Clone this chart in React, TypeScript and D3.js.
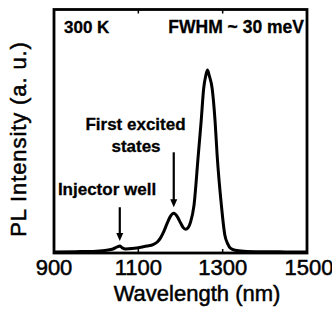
import React, { useEffect, useRef } from 'react';
import * as d3 from 'd3';

// PL spectrum (wavelength in nm, intensity in a.u.)
const wavelength = [900, 950, 1000, 1025, 1040, 1050, 1056, 1062, 1070, 1085, 1100, 1120, 1135, 1145, 1152, 1160, 1168, 1176, 1184, 1192, 1200, 1206, 1212, 1218, 1224, 1232, 1242, 1249, 1255, 1260, 1264, 1268, 1275, 1282, 1287, 1297, 1305, 1312, 1319, 1330, 1350, 1400, 1450, 1500];
const intensity = [0.5, 0.7, 1.0, 1.5, 2.2, 3.3, 3.8, 2.8, 2.2, 2.4, 2.9, 3.8, 4.6, 6, 8, 11.5, 16, 20, 21.7, 20, 16.5, 14, 13, 13.8, 17, 26, 53, 72, 90, 97, 100, 97, 90, 72, 53, 26, 10, 5, 2.5, 1.5, 1.0, 0.7, 0.6, 0.5];

const xTicks = [900, 1100, 1300, 1500];

// annotation arrows: x position (nm), from / to intensity
const arrowLabels = ['First excited states', 'Injector well'];
const arrowX = [1184, 1056];
const arrowFrom = [55, 25];
const arrowTo = [25, 6.6];

export default function App() {
  const svgRef = useRef<SVGSVGElement>(null);

  useEffect(() => {
    if (!svgRef.current) return;
    const svg = d3.select(svgRef.current);
    svg.selectAll('*').remove();

    const left = 54, right = 307, top = 9.5, bottom = 253;

    const x = d3.scaleLinear().domain([900, 1500]).range([left, right]);
    const y = d3.scaleLinear().domain([0, 133]).range([bottom, top]);

    const data = wavelength.map((w, i) => ({ w, v: intensity[i] }));

    // spectrum
    const line = d3.line<{ w: number; v: number }>()
      .x(d => x(d.w))
      .y(d => y(d.v))
      .curve(d3.curveMonotoneX);

    svg.append('path')
      .datum(data)
      .attr('d', line)
      .attr('fill', 'none')
      .attr('stroke', '#000')
      .attr('stroke-width', 3)
      .attr('stroke-linejoin', 'round');

    // frame
    svg.append('rect')
      .attr('x', left).attr('y', top)
      .attr('width', right - left).attr('height', bottom - top)
      .attr('fill', 'none')
      .attr('stroke', '#000')
      .attr('stroke-width', 2.8);

    // inward ticks
    const inner = xTicks.filter(t => t > 900 && t < 1500);
    svg.selectAll('.tt').data(inner).enter().append('line')
      .attr('x1', d => x(d)).attr('x2', d => x(d))
      .attr('y1', top).attr('y2', top + 4)
      .attr('stroke', '#000').attr('stroke-width', 1.5);
    svg.selectAll('.bt').data(inner).enter().append('line')
      .attr('x1', d => x(d)).attr('x2', d => x(d))
      .attr('y1', bottom).attr('y2', bottom - 4)
      .attr('stroke', '#000').attr('stroke-width', 1.5);

    const font = 'Liberation Sans, Arial, sans-serif';

    // tick labels
    svg.selectAll('.tl').data(xTicks).enter().append('text')
      .attr('x', d => x(d) + (d === 1500 ? 2 : 0))
      .attr('y', 275)
      .attr('text-anchor', 'middle')
      .attr('font-family', font)
      .attr('font-size', 22)
      .attr('stroke', '#000').attr('stroke-width', 0.5)
      .text(d => d);

    svg.append('text')
      .attr('x', 197).attr('y', 301)
      .attr('text-anchor', 'middle')
      .attr('font-family', font)
      .attr('font-size', 22)
      .attr('stroke', '#000').attr('stroke-width', 0.5)
      .text('Wavelength (nm)');

    svg.append('text')
      .attr('transform', `translate(26,${139}) rotate(-90)`)
      .attr('text-anchor', 'middle')
      .attr('font-family', font)
      .attr('font-size', 22)
      .attr('letter-spacing', 0.9)
      .attr('stroke', '#000').attr('stroke-width', 0.5)
      .text('PL Intensity (a. u.)');

    // corner labels
    svg.append('text')
      .attr('x', 64).attr('y', 33)
      .attr('font-family', font).attr('font-weight', 'bold').attr('font-size', 17)
      .attr('stroke', '#000').attr('stroke-width', 0.3)
      .text('300 K');
    svg.append('text')
      .attr('x', 304).attr('y', 33)
      .attr('text-anchor', 'end')
      .attr('font-family', font).attr('font-weight', 'bold').attr('font-size', 17.5)
      .attr('stroke', '#000').attr('stroke-width', 0.3)
      .text('FWHM ~ 30 meV');

    // arrows
    arrowX.forEach((w, i) => {
      const ax = x(w);
      const y0 = y(arrowFrom[i]);
      const y1 = y(arrowTo[i]);
      svg.append('line')
        .attr('x1', ax).attr('x2', ax)
        .attr('y1', y0).attr('y2', y1 - 6)
        .attr('stroke', '#000').attr('stroke-width', 2.2);
      svg.append('path')
        .attr('d', `M${ax - 3.5},${y1 - 8} L${ax + 3.5},${y1 - 8} L${ax},${y1} Z`)
        .attr('fill', '#000');
    });

    // arrow labels
    const t1 = svg.append('text')
      .attr('font-family', font).attr('font-weight', 'bold').attr('font-size', 17)
      .attr('stroke', '#000').attr('stroke-width', 0.3)
      .attr('text-anchor', 'middle');
    t1.append('tspan').attr('x', 135.5).attr('y', 130).text('First excited');
    t1.append('tspan').attr('x', 136).attr('y', 152).text('states');

    svg.append('text')
      .attr('x', 107).attr('y', 195)
      .attr('text-anchor', 'middle')
      .attr('font-family', font).attr('font-weight', 'bold').attr('font-size', 17)
      .attr('stroke', '#000').attr('stroke-width', 0.3)
      .text(arrowLabels[1]);
  }, []);

  return (
    <svg
      ref={svgRef}
      width={332}
      height={312}
      style={{ position: 'absolute', left: 0, top: 0, background: '#fff' }}
    />
  );
}
